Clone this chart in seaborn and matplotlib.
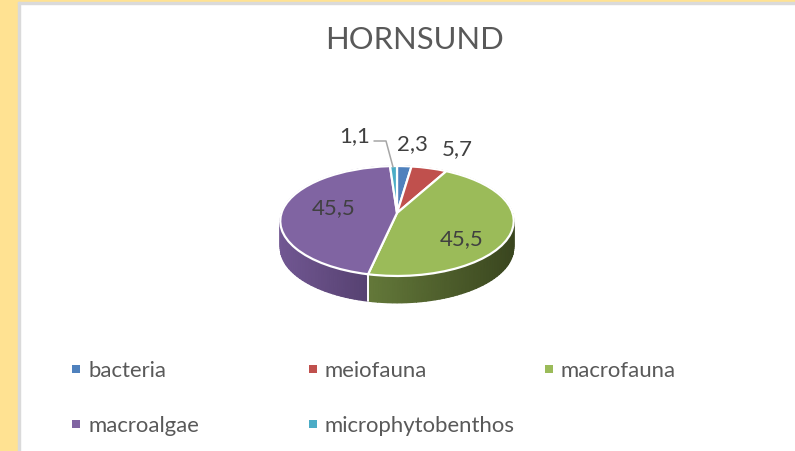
import numpy as np
import matplotlib
matplotlib.use("Agg")
import matplotlib.pyplot as plt
import seaborn as sns
from matplotlib.colors import LinearSegmentedColormap
from matplotlib.patches import Rectangle
from matplotlib.transforms import Transform

categories = ["bacteria", "meiofauna", "macrofauna", "macroalgae", "microphytobenthos"]
values = [2.3, 5.7, 45.5, 45.5, 1.1]
value_labels = ["2,3", "5,7", "45,5", "45,5", "1,1"]
colors = ["#4F81BD", "#C0504D", "#9BBB59", "#8064A2", "#4BACC6"]
wall_light = ["#3E6696", "#994040", "#64793A", "#715792", "#3C8A9E"]
wall_dark = ["#2A4465", "#662A29", "#3A461F", "#503C69", "#28606E"]
label_pos = [(397, 144), (442, 149), (440, 239), (312, 208), (339, 136)]
legend_pos = [(76, 370), (313, 370), (549, 370), (76, 425), (313, 425)]

APEX_X, APEX_Y = 397.0, 214.0
B, A, C = 115.5, 53.8, 0.1455
DEPTH = 27


def project(xy):
    # tilted-disc perspective, unit pie coords to pixels
    x, y = xy[:, 0], xy[:, 1]
    w = 1 + C * y
    return np.column_stack([APEX_X + B * x / w, APEX_Y - A * y / w])


class TiltTransform(Transform):
    input_dims = 2
    output_dims = 2
    is_separable = False
    has_inverse = False

    def transform_non_affine(self, values):
        return project(np.asarray(values))


sns.set_theme(style="white")
plt.rcParams["font.family"] = ["Lato", "DejaVu Sans"]

fig = plt.figure(figsize=(7.95, 4.52), dpi=100)
ax = fig.add_axes([0, 0, 1, 1])
wedges, _ = ax.pie(values, colors=sns.color_palette(colors), startangle=90, counterclock=False,
                   wedgeprops={"edgecolor": "white", "linewidth": 1.6, "zorder": 5})
ax.set_aspect("auto")
ax.axis("off")
for w in wedges:
    w.set_transform(TiltTransform() + ax.transData)

# page background
ax.add_patch(Rectangle((0, 0), 795, 3, color="#FFE292", zorder=1))
ax.add_patch(Rectangle((0, 0), 18, 452, color="#FFE292", zorder=1))
ax.add_patch(Rectangle((18, 3), 777, 1.5, color="#DADADA", zorder=1))
ax.add_patch(Rectangle((18, 3), 1.5, 449, color="#DADADA", zorder=1))

# side wall of the disc, gradient along the rim
edges = np.cumsum([0] + values) / sum(values) * 2 * np.pi
for i in range(len(values)):
    th = np.linspace(edges[i], edges[i + 1], 80)
    rim = project(np.column_stack([np.sin(th), np.cos(th)]))
    xs = np.vstack([rim[:, 0], rim[:, 0]])
    ys = np.vstack([rim[:, 1], rim[:, 1] + DEPTH])
    t = (xs - xs.min()) / max(xs.max() - xs.min(), 1)
    cmap = LinearSegmentedColormap.from_list(categories[i], [wall_light[i], wall_dark[i]])
    ax.pcolormesh(xs, ys, t, cmap=cmap, vmin=0, vmax=1, shading="gouraud", zorder=3)
    if np.cos(edges[i + 1]) < 0 and i < 4:
        ax.plot([rim[-1, 0]] * 2, [rim[-1, 1], rim[-1, 1] + DEPTH], color="white", lw=1.4, zorder=4)
ax.set_xlim(0, 795)
ax.set_ylim(452, 0)

for txt, (x, y) in zip(value_labels, label_pos):
    ax.text(x, y, txt, fontsize=16, color="#404040", va="center", zorder=6)

# leader line for the smallest slice
ax.plot([374, 386, 393], [142, 142, 168], color="#A6A6A6", lw=1.1, zorder=6)

ax.text(415, 40, "HORNSUND", fontsize=22.3, color="#595959", ha="center", va="center", zorder=6)

for name, c, (x, y) in zip(categories, colors, legend_pos):
    ax.scatter([x], [y], marker="s", s=38, color=c, linewidths=0, zorder=6)
    ax.text(x + 12, y + 1.5, name, fontsize=15.9, color="#595959", va="center", zorder=6)

fig.savefig("out.png", dpi=100)
plt.close(fig)
